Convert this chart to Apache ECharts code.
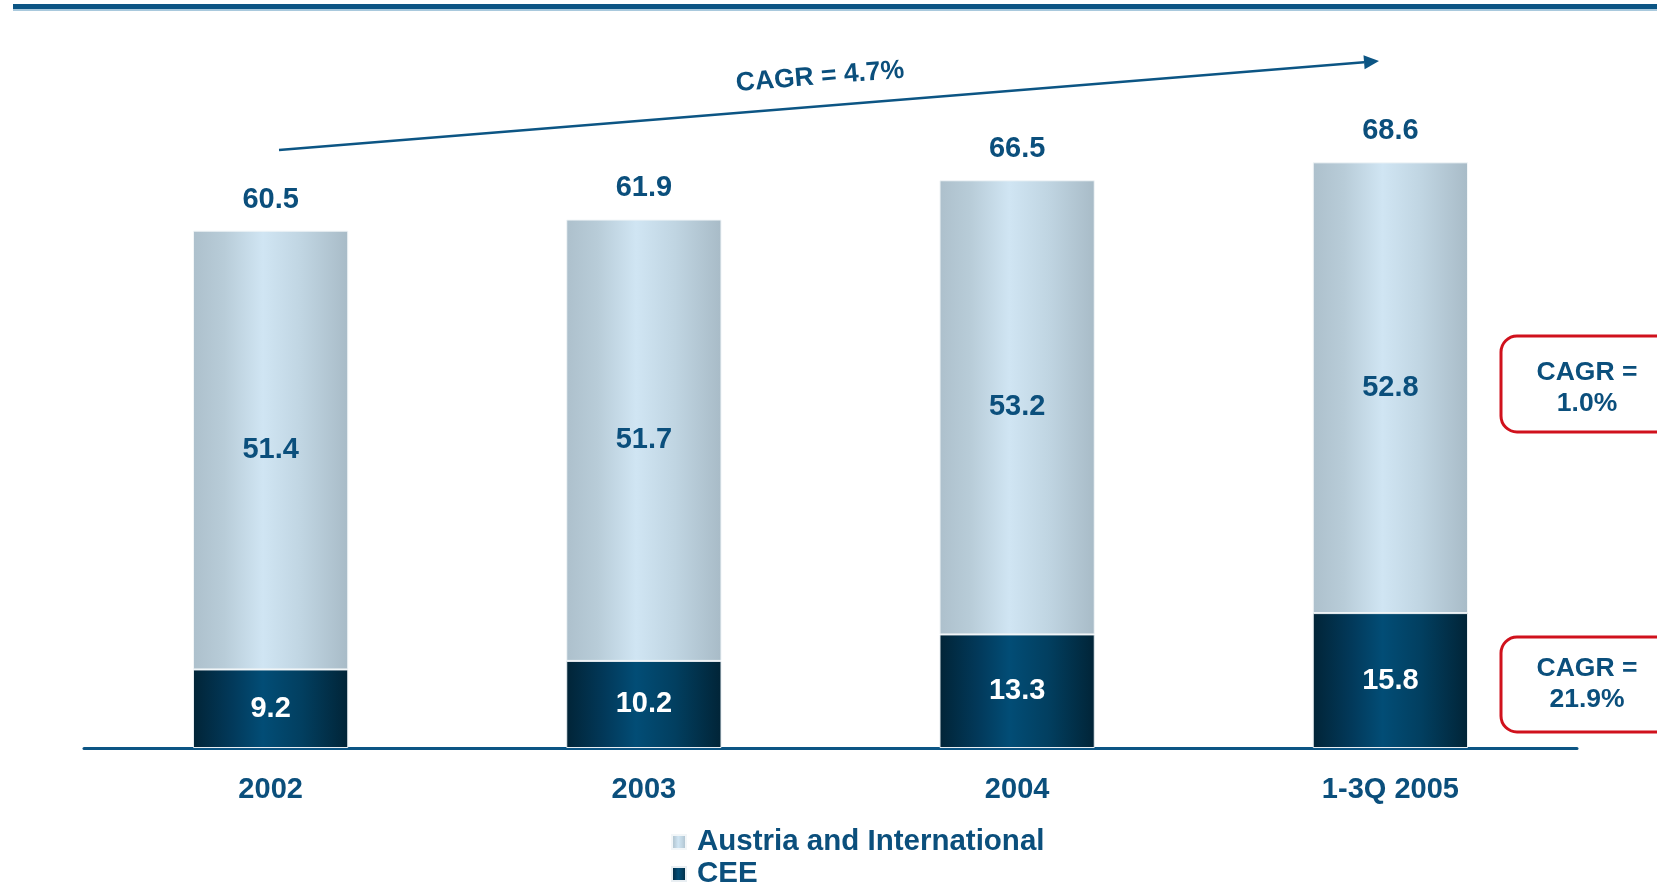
<!DOCTYPE html>
<html>
<head>
<meta charset="utf-8">
<script src="https://cdn.jsdelivr.net/npm/echarts@6/dist/echarts.min.js"></script>
<style>
html,body{margin:0;padding:0;background:#fff;}
#chart{width:1657px;height:886px;}
</style>
</head>
<body>
<div id="chart"></div>
<script>
var categories = ['2002', '2003', '2004', '1-3Q 2005'];
var ceeValues = [9.2, 10.2, 13.3, 15.8];
var austriaValues = [51.4, 51.7, 53.2, 52.8];
var totalValues = [60.5, 61.9, 66.5, 68.6];
var cagrTotalLabel = 'CAGR = 4.7%';
var cagrAustriaLabel = 'CAGR =\n1.0%';
var cagrCeeLabel = 'CAGR =\n21.9%';

var FONT = '"Liberation Sans", Arial, sans-serif';
var BLUE = '#0b4f7c';

var lightGrad = new echarts.graphic.LinearGradient(0, 0, 1, 0, [
  {offset: 0, color: '#adc0cc'},
  {offset: 0.2, color: '#b8ccd8'},
  {offset: 0.45, color: '#d0e5f3'},
  {offset: 0.7, color: '#c0d5e2'},
  {offset: 1, color: '#a8bbc7'}
]);
var darkGrad = new echarts.graphic.LinearGradient(0, 0, 1, 0, [
  {offset: 0, color: '#012437'},
  {offset: 0.25, color: '#02395a'},
  {offset: 0.45, color: '#024d76'},
  {offset: 0.7, color: '#023f60'},
  {offset: 1, color: '#012437'}
]);

var chart = echarts.init(document.getElementById('chart'));

// arrow geometry (annotation)
var ax1 = 279, ay1 = 150, ax2 = 1379, ay2 = 61;
var ang = Math.atan2(ay2 - ay1, ax2 - ax1);
var hl = 15, hw = 7;
var bx = ax2 - hl * Math.cos(ang), by = ay2 - hl * Math.sin(ang);
var head = [
  [ax2, ay2],
  [bx + hw * Math.sin(ang), by - hw * Math.cos(ang)],
  [bx - hw * Math.sin(ang), by + hw * Math.cos(ang)]
];

var legendText = {color: BLUE, fontSize: 29.5, fontWeight: 'bold', fontFamily: FONT, lineHeight: 30, padding: [0, 0, 0, 6]};

chart.setOption({
  animation: false,
  textStyle: {fontFamily: FONT},
  grid: {left: 84, right: 80, top: 65, bottom: 138, containLabel: false},
  legend: [
    {
      data: ['Austria and International'],
      left: 671, top: 827, padding: 0,
      icon: 'rect', itemWidth: 14, itemHeight: 14,
      textStyle: legendText
    },
    {
      data: ['CEE'],
      left: 671, top: 859, padding: 0,
      icon: 'rect', itemWidth: 14, itemHeight: 14,
      textStyle: legendText
    }
  ],
  xAxis: {
    type: 'category',
    data: categories,
    axisTick: {show: false},
    axisLine: {lineStyle: {color: '#0c5584', width: 3}},
    axisLabel: {color: BLUE, fontSize: 29, fontWeight: 'bold', fontFamily: FONT, margin: 27}
  },
  yAxis: {
    type: 'value',
    min: 0,
    max: 80,
    show: false,
    splitLine: {show: false}
  },
  series: [
    {
      name: 'CEE',
      type: 'bar',
      stack: 'total',
      barWidth: '41.6%',
      data: ceeValues,
      itemStyle: {color: darkGrad, borderColor: '#e8eef2', borderWidth: 1},
      label: {show: true, position: 'inside', color: '#ffffff', fontSize: 29, fontWeight: 'bold', fontFamily: FONT}
    },
    {
      name: 'Austria and International',
      type: 'bar',
      stack: 'total',
      barWidth: '41.6%',
      data: austriaValues,
      itemStyle: {color: lightGrad, borderColor: '#f2f6f8', borderWidth: 1},
      label: {show: true, position: 'inside', color: BLUE, fontSize: 29, fontWeight: 'bold', fontFamily: FONT}
    },
    {
      name: 'Total',
      type: 'scatter',
      data: totalValues,
      symbol: 'circle',
      symbolSize: 2,
      itemStyle: {color: 'rgba(255,255,255,0)', opacity: 1},
      label: {show: true, position: 'top', distance: 16, color: BLUE, fontSize: 29, fontWeight: 'bold', fontFamily: FONT},
      z: 10,
      silent: true
    }
  ],
  graphic: [
    {type: 'rect', shape: {x: 13, y: 4, width: 1660, height: 5}, style: {fill: '#0c5584'}},
    {type: 'rect', shape: {x: 13, y: 9, width: 1660, height: 2}, style: {fill: '#a9c9dd'}},
    {type: 'line', shape: {x1: ax1, y1: ay1, x2: bx, y2: by}, style: {stroke: '#0c5584', lineWidth: 2.5}},
    {type: 'polygon', shape: {points: head}, style: {fill: '#0c5584'}},
    {
      type: 'text', x: 820, y: 77, rotation: -ang,
      style: {text: cagrTotalLabel, fill: BLUE, font: 'bold 26.5px ' + FONT, align: 'center', verticalAlign: 'middle'}
    },
    {type: 'rect', shape: {x: 1501, y: 336, width: 175, height: 96, r: 16}, style: {fill: '#ffffff', stroke: '#d0111c', lineWidth: 3}},
    {
      type: 'text', x: 1587, y: 388,
      style: {text: cagrAustriaLabel, fill: BLUE, font: 'bold 26.5px ' + FONT, align: 'center', verticalAlign: 'middle', lineHeight: 31}
    },
    {type: 'rect', shape: {x: 1501, y: 637, width: 175, height: 95, r: 16}, style: {fill: '#ffffff', stroke: '#d0111c', lineWidth: 3}},
    {
      type: 'text', x: 1587, y: 684,
      style: {text: cagrCeeLabel, fill: BLUE, font: 'bold 26.5px ' + FONT, align: 'center', verticalAlign: 'middle', lineHeight: 31}
    }
  ]
});
</script>
</body>
</html>
